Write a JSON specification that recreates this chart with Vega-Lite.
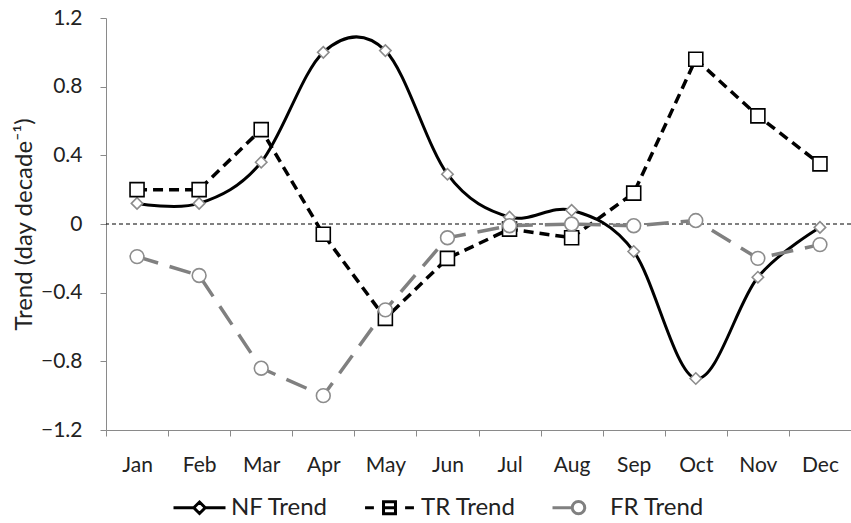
{
  "$schema": "https://vega.github.io/schema/vega-lite/v6.json",
  "width": 745,
  "height": 412,
  "autosize": {"type": "none"},
  "padding": {"left": 106, "top": 18, "right": 0, "bottom": 93},
  "background": "white",
  "config": {
    "font": "Lato",
    "view": {"stroke": null},
    "axis": {"grid": false, "domainColor": "#8a8a8a", "tickColor": "#8a8a8a", "labelColor": "#222222", "titleColor": "#222222", "labelFontSize": 21, "titleFontSize": 24, "titleFontWeight": "normal", "tickSize": 6}
  },
  "data": {
    "values": [
      {"month": "Jan", "series": "NF Trend", "value": 0.12},
      {"month": "Feb", "series": "NF Trend", "value": 0.12},
      {"month": "Mar", "series": "NF Trend", "value": 0.36},
      {"month": "Apr", "series": "NF Trend", "value": 1.0},
      {"month": "May", "series": "NF Trend", "value": 1.01},
      {"month": "Jun", "series": "NF Trend", "value": 0.29},
      {"month": "Jul", "series": "NF Trend", "value": 0.04},
      {"month": "Aug", "series": "NF Trend", "value": 0.08},
      {"month": "Sep", "series": "NF Trend", "value": -0.16},
      {"month": "Oct", "series": "NF Trend", "value": -0.9},
      {"month": "Nov", "series": "NF Trend", "value": -0.31},
      {"month": "Dec", "series": "NF Trend", "value": -0.02},
      {"month": "Jan", "series": "TR Trend", "value": 0.2},
      {"month": "Feb", "series": "TR Trend", "value": 0.2},
      {"month": "Mar", "series": "TR Trend", "value": 0.55},
      {"month": "Apr", "series": "TR Trend", "value": -0.06},
      {"month": "May", "series": "TR Trend", "value": -0.55},
      {"month": "Jun", "series": "TR Trend", "value": -0.2},
      {"month": "Jul", "series": "TR Trend", "value": -0.03},
      {"month": "Aug", "series": "TR Trend", "value": -0.08},
      {"month": "Sep", "series": "TR Trend", "value": 0.18},
      {"month": "Oct", "series": "TR Trend", "value": 0.96},
      {"month": "Nov", "series": "TR Trend", "value": 0.63},
      {"month": "Dec", "series": "TR Trend", "value": 0.35},
      {"month": "Jan", "series": "FR Trend", "value": -0.19},
      {"month": "Feb", "series": "FR Trend", "value": -0.3},
      {"month": "Mar", "series": "FR Trend", "value": -0.84},
      {"month": "Apr", "series": "FR Trend", "value": -1.0},
      {"month": "May", "series": "FR Trend", "value": -0.5},
      {"month": "Jun", "series": "FR Trend", "value": -0.08},
      {"month": "Jul", "series": "FR Trend", "value": -0.01},
      {"month": "Aug", "series": "FR Trend", "value": 0.0},
      {"month": "Sep", "series": "FR Trend", "value": -0.01},
      {"month": "Oct", "series": "FR Trend", "value": 0.02},
      {"month": "Nov", "series": "FR Trend", "value": -0.2},
      {"month": "Dec", "series": "FR Trend", "value": -0.12}
    ]
  },
  "layer": [
    {
      "data": {"values": [{"ref": "zero"}]},
      "mark": {"type": "rule", "color": "#000000", "strokeWidth": 1, "strokeDash": [4, 3]},
      "encoding": {
        "y": {"datum": 0, "type": "quantitative", "scale": {"domain": [-1.2, 1.2], "nice": false, "zero": false},
          "axis": {"title": "Trend (day decade⁻¹)", "values": [-1.2, -0.8, -0.4, 0, 0.4, 0.8, 1.2], "format": ".1~f", "labelPadding": 18, "titlePadding": 4}}
      }
    },
    {
      "transform": [{"filter": "datum.series === 'NF Trend'"}],
      "mark": {"type": "line", "interpolate": "cardinal", "tension": 0, "strokeWidth": 3},
      "encoding": {
        "x": {"field": "month", "type": "ordinal", "sort": ["Jan","Feb","Mar","Apr","May","Jun","Jul","Aug","Sep","Oct","Nov","Dec"],
          "scale": {"type": "band", "paddingInner": 0, "paddingOuter": 0},
          "axis": {"title": null, "tickBand": "extent", "labelPadding": 18, "labelAngle": 0}},
        "y": {"field": "value", "type": "quantitative", "scale": {"domain": [-1.2, 1.2], "nice": false, "zero": false},
          "axis": {"title": "Trend (day decade⁻¹)", "values": [-1.2, -0.8, -0.4, 0, 0.4, 0.8, 1.2], "format": ".1~f", "labelPadding": 18, "titlePadding": 4}},
        "color": {"field": "series", "type": "nominal",
          "scale": {"domain": ["NF Trend", "TR Trend", "FR Trend"], "range": ["#000000", "#000000", "#808080"]},
          "legend": {
            "orient": "none", "legendX": 66, "legendY": 462, "direction": "horizontal", "title": null,
            "labelFontSize": 24, "labelColor": "#222222", "symbolSize": 2704, "labelOffset": 4, "columnPadding": 30, "padding": 0,
            "symbolStrokeWidth": 3,
            "encode": {"symbols": {"update": {
              "shape": {"signal": "datum.value === 'NF Trend' ? 'M-1,0H-0.22M0.22,0H1M0,-0.22L0.22,0L0,0.22L-0.22,0Z' : datum.value === 'TR Trend' ? 'M-0.94,0H-0.6M0.6,0H0.94M-0.23,-0.23H0.23V0.23H-0.23ZM-0.23,0H0.23' : 'M-1,0H-0.24M0.24,0A0.24,0.24 0 1,1 -0.24,0A0.24,0.24 0 1,1 0.24,0'"},
              "fill": {"value": "white"},
              "strokeDash": {"value": []}
            }}}
          }}
      }
    },
    {
      "transform": [{"filter": "datum.series !== 'NF Trend'"}],
      "mark": {"type": "line", "strokeWidth": 3.5},
      "encoding": {
        "x": {"field": "month", "type": "ordinal", "sort": ["Jan","Feb","Mar","Apr","May","Jun","Jul","Aug","Sep","Oct","Nov","Dec"],
          "scale": {"type": "band", "paddingInner": 0, "paddingOuter": 0},
          "axis": {"title": null, "tickBand": "extent", "labelPadding": 18, "labelAngle": 0}},
        "y": {"field": "value", "type": "quantitative", "scale": {"domain": [-1.2, 1.2], "nice": false, "zero": false},
          "axis": {"title": "Trend (day decade⁻¹)", "values": [-1.2, -0.8, -0.4, 0, 0.4, 0.8, 1.2], "format": ".1~f", "labelPadding": 18, "titlePadding": 4}},
        "color": {"field": "series", "type": "nominal"},
        "strokeDash": {"field": "series", "type": "nominal",
          "scale": {"domain": ["TR Trend", "FR Trend"], "range": [[10, 6], [22, 12]]}, "legend": null}
      }
    },
    {
      "transform": [{"filter": "datum.series === 'NF Trend'"}],
      "mark": {"type": "point", "shape": "diamond", "size": 130, "fill": "white", "fillOpacity": 1, "opacity": 1, "stroke": "#8c8c8c", "strokeWidth": 1.6},
      "encoding": {
        "x": {"field": "month", "type": "ordinal", "sort": ["Jan","Feb","Mar","Apr","May","Jun","Jul","Aug","Sep","Oct","Nov","Dec"]},
        "y": {"field": "value", "type": "quantitative"}
      }
    },
    {
      "transform": [{"filter": "datum.series === 'TR Trend'"}],
      "mark": {"type": "point", "shape": "square", "size": 196, "fill": "white", "fillOpacity": 1, "opacity": 1, "stroke": "#000000", "strokeWidth": 1.6},
      "encoding": {
        "x": {"field": "month", "type": "ordinal", "sort": ["Jan","Feb","Mar","Apr","May","Jun","Jul","Aug","Sep","Oct","Nov","Dec"]},
        "y": {"field": "value", "type": "quantitative"}
      }
    },
    {
      "transform": [{"filter": "datum.series === 'FR Trend'"}],
      "mark": {"type": "point", "shape": "circle", "size": 190, "fill": "white", "fillOpacity": 1, "opacity": 1, "stroke": "#8c8c8c", "strokeWidth": 1.6},
      "encoding": {
        "x": {"field": "month", "type": "ordinal", "sort": ["Jan","Feb","Mar","Apr","May","Jun","Jul","Aug","Sep","Oct","Nov","Dec"]},
        "y": {"field": "value", "type": "quantitative"}
      }
    }
  ]
}
